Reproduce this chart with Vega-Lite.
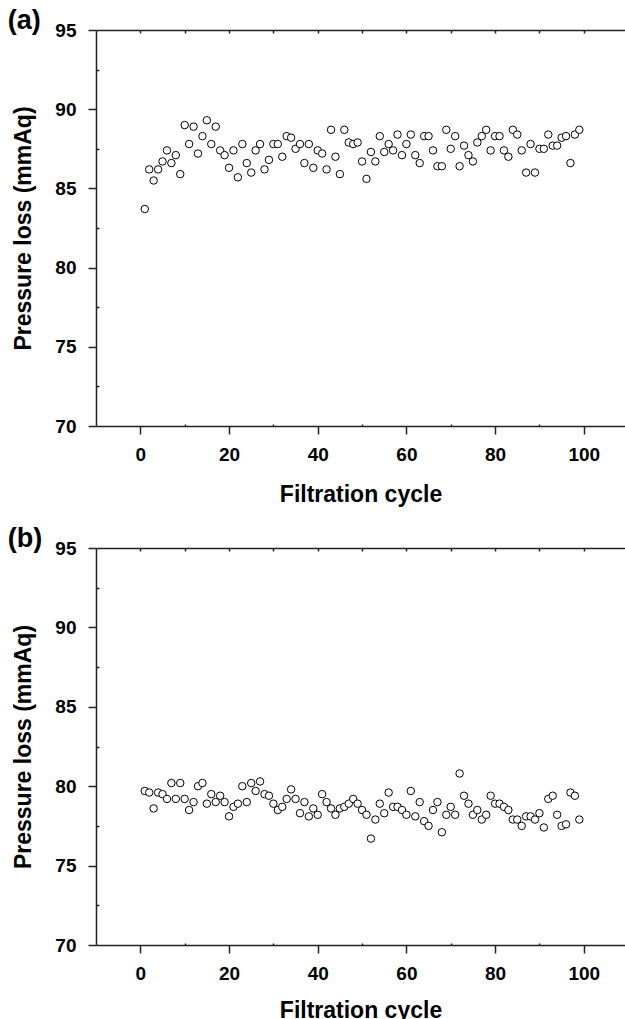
{
  "$schema": "https://vega.github.io/schema/vega-lite/v6.json",
  "padding": {"left": 7, "top": 7, "right": 0, "bottom": 0},
  "background": "white",
  "config": {
    "view": {"stroke": null},
    "font": "Liberation Sans",
    "axis": {
      "domainColor": "#222", "domainWidth": 1.5, "tickColor": "#222", "tickWidth": 1.5,
      "labelFont": "Liberation Sans", "labelFontSize": 19, "labelFontWeight": "bold", "labelColor": "black",
      "titleFont": "Liberation Sans", "titleFontSize": 23, "titleFontWeight": "bold", "titleColor": "black",
      "grid": false
    },
    "title": {"font": "Liberation Sans", "fontSize": 27, "fontWeight": "bold", "color": "black", "anchor": "start", "frame": "bounds", "baseline": "alphabetic"}
  },
  "datasets": {
    "a": [
      {"cycle":1,"loss":83.7},{"cycle":2,"loss":86.2},{"cycle":3,"loss":85.5},{"cycle":4,"loss":86.2},{"cycle":5,"loss":86.7},
      {"cycle":6,"loss":87.4},{"cycle":7,"loss":86.6},{"cycle":8,"loss":87.1},{"cycle":9,"loss":85.9},{"cycle":10,"loss":89.0},
      {"cycle":11,"loss":87.8},{"cycle":12,"loss":88.9},{"cycle":13,"loss":87.2},{"cycle":14,"loss":88.3},{"cycle":15,"loss":89.3},
      {"cycle":16,"loss":87.8},{"cycle":17,"loss":88.9},{"cycle":18,"loss":87.4},{"cycle":19,"loss":87.1},{"cycle":20,"loss":86.3},
      {"cycle":21,"loss":87.4},{"cycle":22,"loss":85.7},{"cycle":23,"loss":87.8},{"cycle":24,"loss":86.6},{"cycle":25,"loss":86.0},
      {"cycle":26,"loss":87.4},{"cycle":27,"loss":87.8},{"cycle":28,"loss":86.2},{"cycle":29,"loss":86.8},{"cycle":30,"loss":87.8},
      {"cycle":31,"loss":87.8},{"cycle":32,"loss":87.0},{"cycle":33,"loss":88.3},{"cycle":34,"loss":88.2},{"cycle":35,"loss":87.5},
      {"cycle":36,"loss":87.8},{"cycle":37,"loss":86.6},{"cycle":38,"loss":87.8},{"cycle":39,"loss":86.3},{"cycle":40,"loss":87.4},
      {"cycle":41,"loss":87.2},{"cycle":42,"loss":86.2},{"cycle":43,"loss":88.7},{"cycle":44,"loss":87.0},{"cycle":45,"loss":85.9},
      {"cycle":46,"loss":88.7},{"cycle":47,"loss":87.9},{"cycle":48,"loss":87.8},{"cycle":49,"loss":87.9},{"cycle":50,"loss":86.7},
      {"cycle":51,"loss":85.6},{"cycle":52,"loss":87.3},{"cycle":53,"loss":86.7},{"cycle":54,"loss":88.3},{"cycle":55,"loss":87.3},
      {"cycle":56,"loss":87.8},{"cycle":57,"loss":87.4},{"cycle":58,"loss":88.4},{"cycle":59,"loss":87.1},{"cycle":60,"loss":87.8},
      {"cycle":61,"loss":88.4},{"cycle":62,"loss":87.1},{"cycle":63,"loss":86.6},{"cycle":64,"loss":88.3},{"cycle":65,"loss":88.3},
      {"cycle":66,"loss":87.4},{"cycle":67,"loss":86.4},{"cycle":68,"loss":86.4},{"cycle":69,"loss":88.7},{"cycle":70,"loss":87.5},
      {"cycle":71,"loss":88.3},{"cycle":72,"loss":86.4},{"cycle":73,"loss":87.7},{"cycle":74,"loss":87.1},{"cycle":75,"loss":86.7},
      {"cycle":76,"loss":87.9},{"cycle":77,"loss":88.3},{"cycle":78,"loss":88.7},{"cycle":79,"loss":87.4},{"cycle":80,"loss":88.3},
      {"cycle":81,"loss":88.3},{"cycle":82,"loss":87.4},{"cycle":83,"loss":87.0},{"cycle":84,"loss":88.7},{"cycle":85,"loss":88.4},
      {"cycle":86,"loss":87.4},{"cycle":87,"loss":86.0},{"cycle":88,"loss":87.8},{"cycle":89,"loss":86.0},{"cycle":90,"loss":87.5},
      {"cycle":91,"loss":87.5},{"cycle":92,"loss":88.4},{"cycle":93,"loss":87.7},{"cycle":94,"loss":87.7},{"cycle":95,"loss":88.2},
      {"cycle":96,"loss":88.3},{"cycle":97,"loss":86.6},{"cycle":98,"loss":88.4},{"cycle":99,"loss":88.7}
    ],
    "b": [
      {"cycle":1,"loss":79.7},{"cycle":2,"loss":79.6},{"cycle":3,"loss":78.6},{"cycle":4,"loss":79.6},{"cycle":5,"loss":79.5},
      {"cycle":6,"loss":79.2},{"cycle":7,"loss":80.2},{"cycle":8,"loss":79.2},{"cycle":9,"loss":80.2},{"cycle":10,"loss":79.2},
      {"cycle":11,"loss":78.5},{"cycle":12,"loss":79.0},{"cycle":13,"loss":80.0},{"cycle":14,"loss":80.2},{"cycle":15,"loss":78.9},
      {"cycle":16,"loss":79.5},{"cycle":17,"loss":79.0},{"cycle":18,"loss":79.4},{"cycle":19,"loss":79.0},{"cycle":20,"loss":78.1},
      {"cycle":21,"loss":78.7},{"cycle":22,"loss":78.9},{"cycle":23,"loss":80.0},{"cycle":24,"loss":79.0},{"cycle":25,"loss":80.2},
      {"cycle":26,"loss":79.7},{"cycle":27,"loss":80.3},{"cycle":28,"loss":79.5},{"cycle":29,"loss":79.4},{"cycle":30,"loss":78.9},
      {"cycle":31,"loss":78.5},{"cycle":32,"loss":78.7},{"cycle":33,"loss":79.2},{"cycle":34,"loss":79.8},{"cycle":35,"loss":79.2},
      {"cycle":36,"loss":78.3},{"cycle":37,"loss":79.0},{"cycle":38,"loss":78.1},{"cycle":39,"loss":78.6},{"cycle":40,"loss":78.2},
      {"cycle":41,"loss":79.5},{"cycle":42,"loss":79.0},{"cycle":43,"loss":78.6},{"cycle":44,"loss":78.2},{"cycle":45,"loss":78.6},
      {"cycle":46,"loss":78.7},{"cycle":47,"loss":78.9},{"cycle":48,"loss":79.2},{"cycle":49,"loss":78.9},{"cycle":50,"loss":78.5},
      {"cycle":51,"loss":78.2},{"cycle":52,"loss":76.7},{"cycle":53,"loss":77.9},{"cycle":54,"loss":78.9},{"cycle":55,"loss":78.3},
      {"cycle":56,"loss":79.6},{"cycle":57,"loss":78.7},{"cycle":58,"loss":78.7},{"cycle":59,"loss":78.5},{"cycle":60,"loss":78.2},
      {"cycle":61,"loss":79.7},{"cycle":62,"loss":78.1},{"cycle":63,"loss":79.0},{"cycle":64,"loss":77.8},{"cycle":65,"loss":77.5},
      {"cycle":66,"loss":78.5},{"cycle":67,"loss":79.0},{"cycle":68,"loss":77.1},{"cycle":69,"loss":78.2},{"cycle":70,"loss":78.7},
      {"cycle":71,"loss":78.2},{"cycle":72,"loss":80.8},{"cycle":73,"loss":79.4},{"cycle":74,"loss":78.9},{"cycle":75,"loss":78.2},
      {"cycle":76,"loss":78.5},{"cycle":77,"loss":77.9},{"cycle":78,"loss":78.2},{"cycle":79,"loss":79.4},{"cycle":80,"loss":78.9},
      {"cycle":81,"loss":78.9},{"cycle":82,"loss":78.7},{"cycle":83,"loss":78.5},{"cycle":84,"loss":77.9},{"cycle":85,"loss":77.9},
      {"cycle":86,"loss":77.5},{"cycle":87,"loss":78.1},{"cycle":88,"loss":78.1},{"cycle":89,"loss":77.9},{"cycle":90,"loss":78.3},
      {"cycle":91,"loss":77.4},{"cycle":92,"loss":79.2},{"cycle":93,"loss":79.4},{"cycle":94,"loss":78.2},{"cycle":95,"loss":77.5},
      {"cycle":96,"loss":77.6},{"cycle":97,"loss":79.6},{"cycle":98,"loss":79.4},{"cycle":99,"loss":77.9}
    ]
  },
  "spacing": 19,
  "vconcat": [
    {
      "title": {"text": "(a)", "offset": -14, "dx": -5},
      "width": 529, "height": 396,
      "data": {"name": "a"},
      "resolve": {"axis": {"x": "independent"}},
      "layer": [
        {
          "mark": {"type": "point", "shape": "circle", "filled": false, "stroke": "black", "strokeWidth": 1, "fill": "white", "fillOpacity": 1, "size": 56, "opacity": 1},
          "encoding": {
            "x": {"field": "cycle", "type": "quantitative", "scale": {"domain": [-10, 109.3], "nice": false, "zero": false},
              "axis": {"orient": "bottom", "title": "Filtration cycle", "values": [0,10,20,30,40,50,60,70,80,90,100],
                "labelExpr": "datum.value % 20 === 0 ? datum.label : ''",
                "tickSize": {"condition": {"test": "datum.value % 20 === 0", "value": 8}, "value": -2},
                "labelPadding": 11, "titlePadding": 19}},
            "y": {"field": "loss", "type": "quantitative", "scale": {"domain": [70, 95], "nice": false, "zero": false},
              "axis": {"title": "Pressure loss (mmAq)", "values": [70,72.5,75,77.5,80,82.5,85,87.5,90,92.5,95],
                "labelExpr": "datum.value % 5 === 0 ? datum.label : ''",
                "tickSize": {"condition": {"test": "datum.value % 5 === 0", "value": 8}, "value": -3},
                "labelPadding": 12, "titlePadding": 19}}
          }
        },
        {
          "mark": {"type": "point", "opacity": 0},
          "encoding": {
            "x": {"field": "cycle", "type": "quantitative",
              "axis": {"orient": "top", "title": null, "labels": false, "values": [0,10,20,30,40,50,60,70,80,90,100], "tickSize": -3}}
          }
        }
      ]
    },
    {
      "title": {"text": "(b)", "offset": -14, "dx": -5},
      "width": 529, "height": 397,
      "data": {"name": "b"},
      "resolve": {"axis": {"x": "independent"}},
      "layer": [
        {
          "mark": {"type": "point", "shape": "circle", "filled": false, "stroke": "black", "strokeWidth": 1, "fill": "white", "fillOpacity": 1, "size": 56, "opacity": 1},
          "encoding": {
            "x": {"field": "cycle", "type": "quantitative", "scale": {"domain": [-10, 109.3], "nice": false, "zero": false},
              "axis": {"orient": "bottom", "title": "Filtration cycle", "values": [0,10,20,30,40,50,60,70,80,90,100],
                "labelExpr": "datum.value % 20 === 0 ? datum.label : ''",
                "tickSize": {"condition": {"test": "datum.value % 20 === 0", "value": 8}, "value": -2},
                "labelPadding": 11, "titlePadding": 16}},
            "y": {"field": "loss", "type": "quantitative", "scale": {"domain": [70, 95], "nice": false, "zero": false},
              "axis": {"title": "Pressure loss (mmAq)", "values": [70,72.5,75,77.5,80,82.5,85,87.5,90,92.5,95],
                "labelExpr": "datum.value % 5 === 0 ? datum.label : ''",
                "tickSize": {"condition": {"test": "datum.value % 5 === 0", "value": 8}, "value": -3},
                "labelPadding": 12, "titlePadding": 19}}
          }
        },
        {
          "mark": {"type": "point", "opacity": 0},
          "encoding": {
            "x": {"field": "cycle", "type": "quantitative",
              "axis": {"orient": "top", "title": null, "labels": false, "values": [0,10,20,30,40,50,60,70,80,90,100], "tickSize": -3}}
          }
        }
      ]
    }
  ]
}
